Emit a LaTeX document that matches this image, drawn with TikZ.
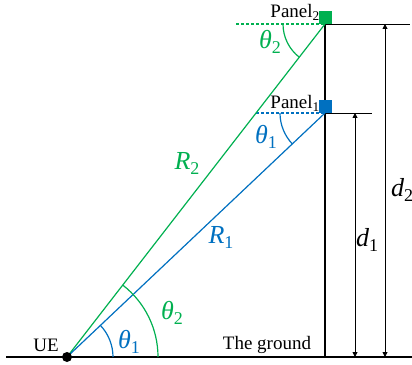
\documentclass[tikz,border=0pt]{standalone}
\usepackage{fontspec}
\setmainfont{Liberation Serif}
\usetikzlibrary{arrows.meta}
\definecolor{pgreen}{HTML}{00B050}
\definecolor{pblue}{HTML}{0070C0}
\newcommand{\symb}[2]{{\fontsize{26}{26}\selectfont\itshape #1}\raisebox{-5pt}{\fontsize{18}{18}\selectfont #2}}
\begin{document}
\begin{tikzpicture}[x=1pt,y=1pt,
  thickline/.style={line width=2.6pt},
  ray/.style={line width=1.2pt},
  thin/.style={line width=0.9pt},
  dimarrow/.style={line width=0.9pt,{Triangle[length=5pt,width=5pt]}-{Triangle[length=5pt,width=5pt]}},
  lbl/.style={inner sep=0pt,font=\fontsize{19}{19}\selectfont},
  mlbl/.style={inner sep=0pt}]
\useasboundingbox (0,0) rectangle (412,364);
\coordinate (UE) at (67,7);
\coordinate (P1) at (325,251);
\coordinate (P2) at (325,340);
\coordinate (G0) at (6,7);
\coordinate (G1) at (412,7);
\coordinate (B) at (325,7);
% ground and pole
\draw[thickline] (G0) -- (G1);
\draw[thickline] (B) -- (P2);
% right reference lines
\coordinate (R2e) at (410,340);
\coordinate (R1e) at (372,251);
\draw[thin] (P2) -- (R2e);
\draw[thin] (P1) -- (R1e);
% dimension arrows
\coordinate (D1b) at (355,7);
\coordinate (D1t) at (355,251);
\coordinate (D2b) at (385,7);
\coordinate (D2t) at (385,340);
\draw[dimarrow] (D1b) -- (D1t);
\draw[dimarrow] (D2b) -- (D2t);
% dashed horizontals
\coordinate (H2) at (236,340);
\coordinate (H1) at (256,251);
\draw[pgreen,ray,dashed,dash pattern=on 3pt off 2pt] (H2) -- (P2);
\draw[pblue,ray,dashed,dash pattern=on 3pt off 2pt] (H1) -- (P1);
% rays
\draw[pgreen,ray] (UE) -- (P2);
\draw[pblue,ray] (UE) -- (P1);
% arcs
\draw[pblue,ray] ([xshift=46pt]UE) arc (0:43.4:46);
\draw[pgreen,ray] ([xshift=91pt]UE) arc (0:52.2:91);
\draw[pblue,ray] ([xshift=-45pt]P1) arc (180:223.4:45);
\draw[pgreen,ray] ([xshift=-42pt]P2) arc (180:232.2:42);
% panels
\fill[pgreen] (319,340) rectangle (332,353);
\fill[pblue] (319,251) rectangle (332,264);
% UE dot
\fill (UE) circle (5pt);
% labels
\node[lbl,anchor=east] (lp2) at (320,352) {Panel\textsubscript{2}};
\node[lbl,anchor=east] (lp1) at (320,261) {Panel\textsubscript{1}};
\node[lbl] (lue) at (46,19) {UE};
\node[lbl] (lg) at (267,19) {The ground};
\node[mlbl,pgreen] (t2a) at (270,322) {\symb{θ}{2}};
\node[mlbl,pblue] (t1a) at (266,227) {\symb{θ}{1}};
\node[mlbl,pblue] (t1b) at (129,22) {\symb{θ}{1}};
\node[mlbl,pgreen] (t2b) at (172,51) {\symb{θ}{2}};
\node[mlbl,pgreen] (r2) at (187,201) {\symb{R}{2}};
\node[mlbl,pblue] (r1) at (221,127) {\symb{R}{1}};
\node[mlbl] (d1) at (367,124) {\symb{d}{1}};
\node[mlbl] (d2) at (402,174) {\symb{d}{2}};
\end{tikzpicture}
\end{document}
